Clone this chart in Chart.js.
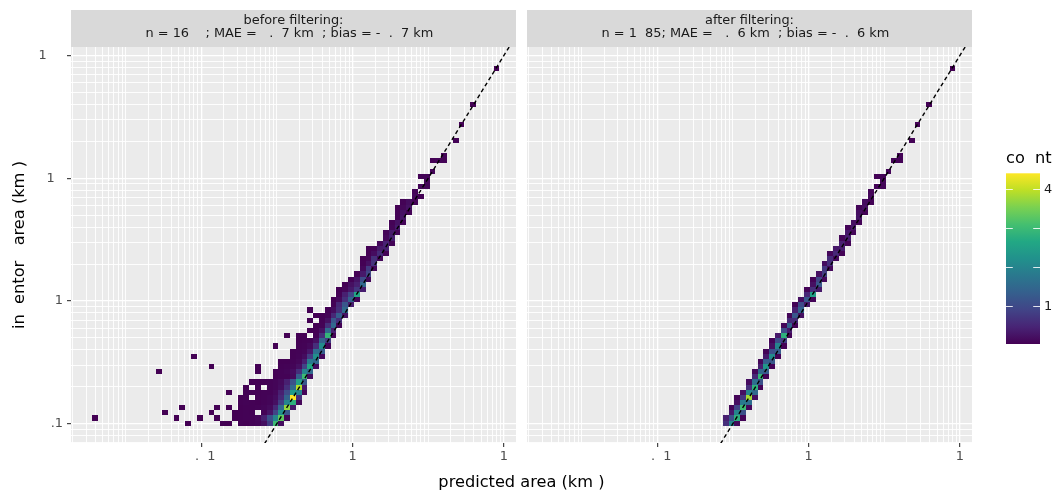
<!DOCTYPE html>
<html>
<head>
<meta charset="utf-8">
<script src="https://cdn.jsdelivr.net/npm/chart.js@4.4.1/dist/chart.umd.min.js"></script>
<style>
  html, body { margin: 0; padding: 0; background: #ffffff; }
  #wrap { position: relative; width: 1059px; height: 497px; }
  canvas { position: absolute; left: 0; top: 0; }
</style>
</head>
<body>
<div id="wrap">
  <canvas id="before" width="1059" height="497"></canvas>
  <canvas id="after" width="1059" height="497"></canvas>
</div>
<script>
// ---- data ----
// log10 bins shared by both facets (70 x 70 bins)
const xBinOrigin = -3.4405, xBinWidth = 0.07688;
const yBinOrigin = -1.0166, yBinWidth = 0.04193;

// axis ranges and ticks
const xRange = [1.9e-4, 145];
const yRange = [0.0696, 117.7];
const xTickValues = [0.01, 1, 100];
const xTickLabels = ['\u2007.\u20071', '1', '1'];
const yTickValues = [0.1, 1, 10, 100];
const yTickLabels = ['\u2007.1', '1', '1\u2007', '1\u2007\u2007'];

// colour bar
const countRange = [1, 441];
const legendBreaks = [100, 200, 300, 400];
const legendLabels = ['1\u2007\u2007', '\u2007\u2007\u2007', '\u2007\u2007\u2007', '4\u2007\u2007'];

// facet titles
const stripBefore = ['before filtering:', 'n = 16\u2007\u2007; MAE = \u2007.\u20077 km\u2007; bias = -\u2007.\u20077 km\u2007'];
const stripAfter = ['after filtering:', 'n = 1\u200785; MAE = \u2007.\u20076 km\u2007; bias = -\u2007.\u20076 km\u2007'];

// cells: [row, col, count]
const beforeCells = [
  [0,16,1],[0,22,1],[0,23,1],[0,25,2],[0,26,1],[0,27,3],[0,28,6],[0,29,20],[0,30,80],[0,31,300],[0,32,15],
  [1,0,1],[1,14,1],[1,18,1],[1,21,1],[1,24,1],[1,25,2],[1,26,3],[1,27,4],[1,28,8],[1,29,40],[1,30,110],[1,31,200],[1,32,330],[1,33,5],
  [2,12,1],[2,20,1],[2,24,1],[2,25,2],[2,26,3],[2,27,2],[2,29,5],[2,30,25],[2,31,90],[2,32,220],[2,33,120],
  [3,15,1],[3,21,1],[3,23,1],[3,25,1],[3,26,2],[3,27,2],[3,28,3],[3,29,6],[3,30,12],[3,31,50],[3,32,150],[3,33,370],[3,34,30],
  [4,25,2],[4,26,3],[4,27,2],[4,28,1],[4,29,3],[4,30,6],[4,31,20],[4,32,80],[4,33,200],[4,34,280],[4,35,8],
  [5,25,1],[5,26,2],[5,28,2],[5,29,4],[5,30,6],[5,31,15],[5,32,50],[5,33,140],[5,34,441],[5,35,60],
  [6,23,1],[6,26,2],[6,27,2],[6,28,2],[6,29,3],[6,30,4],[6,31,10],[6,32,40],[6,33,100],[6,34,240],[6,35,200],[6,36,5],
  [7,26,1],[7,28,2],[7,30,3],[7,31,6],[7,32,15],[7,33,60],[7,34,150],[7,35,390],[7,36,30],
  [8,27,1],[8,28,1],[8,29,2],[8,30,3],[8,31,6],[8,32,12],[8,33,40],[8,34,110],[8,35,250],[8,36,120],
  [9,31,1],[9,32,3],[9,33,4],[9,34,12],[9,35,130],[9,36,300],[9,37,15],
  [10,11,1],[10,28,1],[10,31,2],[10,32,3],[10,33,6],[10,34,15],[10,35,60],[10,36,200],[10,37,150],
  [11,20,1],[11,28,1],[11,32,2],[11,33,4],[11,34,6],[11,35,20],[11,36,90],[11,37,260],[11,38,15],
  [12,32,1],[12,33,1],[12,34,3],[12,35,8],[12,36,40],[12,37,180],[12,38,150],
  [13,17,1],[13,34,2],[13,35,5],[13,36,15],[13,37,80],[13,38,220],[13,39,10],
  [14,34,2],[14,35,3],[14,36,6],[14,37,30],[14,38,160],[14,39,130],
  [15,31,1],[15,35,2],[15,36,4],[15,37,10],[15,38,60],[15,39,210],[15,40,5],
  [16,35,1],[16,36,2],[16,37,4],[16,38,20],[16,39,140],[16,40,80],
  [17,33,1],[17,35,1],[17,36,1],[17,38,3],[17,39,60],[17,40,290],[17,41,5],
  [18,37,1],[18,38,2],[18,39,20],[18,40,150],[18,41,40],
  [19,38,1],[19,39,4],[19,40,60],[19,41,150],[19,42,3],
  [20,37,1],[20,39,2],[20,40,20],[20,41,120],[20,42,60],
  [21,38,1],[21,39,1],[21,40,5],[21,41,50],[21,42,130],[21,43,22],
  [22,37,1],[22,40,2],[22,41,15],[22,42,60],[22,43,150],
  [23,41,4],[23,42,50],[23,43,120],[23,44,35],
  [24,41,1],[24,42,12],[24,43,60],[24,44,140],[24,45,6],
  [25,42,3],[25,43,40],[25,44,90],[25,45,260],
  [26,42,1],[26,43,8],[26,44,30],[26,45,70],[26,46,35],
  [27,43,2],[27,44,20],[27,45,40],[27,46,150],
  [28,44,3],[28,45,25],[28,46,100],[28,47,10],
  [29,45,2],[29,46,30],[29,47,90],
  [30,46,10],[30,47,75],[30,48,10],
  [31,46,2],[31,47,20],[31,48,65],
  [32,46,1],[32,47,6],[32,48,60],[32,49,10],
  [33,47,1],[33,48,15],[33,49,55],[33,50,3],
  [34,47,1],[34,48,3],[34,49,32],[34,50,38],
  [35,49,10],[35,50,42],[35,51,5],
  [36,50,10],[36,51,38],
  [37,50,6],[37,51,32],[37,52,8],
  [38,51,6],[38,52,32],
  [39,51,3],[39,52,22],[39,53,5],
  [40,52,4],[40,53,26],
  [41,52,3],[41,53,22],[41,54,4],
  [42,52,1],[42,53,8],[42,54,22],
  [43,53,3],[43,54,16],[43,55,3],
  [44,55,11],[44,56,2],
  [45,55,6],
  [46,56,7],[46,57,6],
  [47,57,8],
  [48,56,3],[48,57,5],
  [49,58,6],
  [51,58,1],[51,59,5],[51,60,4],
  [52,60,5],
  [55,62,3],
  [58,63,2],
  [62,65,2],
  [69,69,1]
];

const afterCells = [
  [0,30,60],[0,31,200],[0,32,12],
  [1,30,40],[1,31,110],[1,32,280],[1,33,5],
  [2,31,30],[2,32,200],[2,33,110],
  [3,31,6],[3,32,90],[3,33,300],[3,34,10],
  [4,32,20],[4,33,180],[4,34,160],
  [5,32,5],[5,33,70],[5,34,380],[5,35,15],
  [6,33,20],[6,34,200],[6,35,150],
  [7,34,60],[7,35,280],[7,36,5],
  [8,34,15],[8,35,160],[8,36,110],
  [9,35,50],[9,36,290],[9,37,5],
  [10,35,10],[10,36,150],[10,37,130],
  [11,36,40],[11,37,230],[11,38,4],
  [12,36,8],[12,37,130],[12,38,120],
  [13,37,30],[13,38,210],[13,39,3],
  [14,37,5],[14,38,110],[14,39,130],
  [15,38,20],[15,39,200],[15,40,3],
  [16,38,4],[16,39,100],[16,40,80],
  [17,39,30],[17,40,280],[17,41,5],
  [18,40,100],[18,41,35],
  [19,40,10],[19,41,140],[19,42,3],
  [20,41,50],[20,42,55],
  [21,41,8],[21,42,120],[21,43,20],
  [22,42,40],[22,43,140],
  [23,42,5],[23,43,100],[23,44,30],
  [24,43,20],[24,44,120],[24,45,5],
  [25,44,50],[25,45,250],
  [26,44,5],[26,45,60],[26,46,30],
  [27,45,20],[27,46,120],
  [28,45,3],[28,46,90],[28,47,10],
  [29,46,20],[29,47,80],
  [30,47,70],[30,48,10],
  [31,47,15],[31,48,60],
  [32,48,55],[32,49,10],
  [33,48,10],[33,49,50],[33,50,3],
  [34,49,30],[34,50,35],
  [35,50,40],[35,51,5],
  [36,50,8],[36,51,35],
  [37,51,30],[37,52,8],
  [38,51,5],[38,52,30],
  [39,52,20],[39,53,5],
  [40,53,25],
  [41,53,20],[41,54,4],
  [42,53,6],[42,54,20],
  [43,54,15],[43,55,3],
  [44,55,10],
  [45,55,6],
  [46,56,6],[46,57,6],
  [47,57,8],
  [48,56,3],[48,57,5],
  [49,58,6],
  [51,59,5],[51,60,4],
  [52,60,5],
  [55,62,3],
  [58,63,2],
  [62,65,2],
  [69,69,1]
];

// ---- helpers ----
const FONT = '"DejaVu Sans", "Noto Sans", sans-serif';
const viridis = ['#440154', '#482475', '#414487', '#355f8d', '#2a788e', '#21918c',
                 '#22a884', '#44bf70', '#7ad151', '#bddf26', '#fde725'];

function hexRgb(h) {
  return [parseInt(h.slice(1, 3), 16), parseInt(h.slice(3, 5), 16), parseInt(h.slice(5, 7), 16)];
}

function countColor(n) {
  let t = (n - countRange[0]) / (countRange[1] - countRange[0]);
  t = Math.max(0, Math.min(1, t));
  const p = t * (viridis.length - 1);
  const i = Math.min(Math.floor(p), viridis.length - 2);
  const f = p - i;
  const a = hexRgb(viridis[i]), b = hexRgb(viridis[i + 1]);
  const c = a.map((v, k) => Math.round(v + (b[k] - v) * f));
  return 'rgb(' + c.join(',') + ')';
}

// grid lines at 1..9 x 10^k
function logGrid(min, max) {
  const out = [];
  for (let e = -5; e <= 3; e++) {
    for (let k = 1; k <= 9; k++) {
      const v = k * Math.pow(10, e);
      if (v >= min * 0.9999 && v <= max * 1.0001) out.push(v);
    }
  }
  return out;
}

function labelIndex(v, values) {
  return values.findIndex(t => Math.abs(Math.log10(v) - Math.log10(t)) < 1e-6);
}

function cellPoints(cells) {
  return cells.map(([row, col, n]) => ({
    x: Math.pow(10, xBinOrigin + (col + 0.5) * xBinWidth),
    y: Math.pow(10, yBinOrigin + (row + 0.5) * yBinWidth),
    row: row, col: col, n: n
  }));
}

// ---- plugins ----
const heatmapPlugin = {
  id: 'heatmap',
  beforeDatasetsDraw(chart) {
    const {ctx, chartArea, scales: {x, y}} = chart;
    ctx.save();
    ctx.beginPath();
    ctx.rect(chartArea.left, chartArea.top, chartArea.width, chartArea.height);
    ctx.clip();
    chart.data.datasets.forEach(ds => {
      if (!ds.heat) return;
      ds.data.forEach(p => {
        const x0 = Math.round(x.getPixelForValue(Math.pow(10, xBinOrigin + p.col * xBinWidth)));
        const x1 = Math.round(x.getPixelForValue(Math.pow(10, xBinOrigin + (p.col + 1) * xBinWidth)));
        const y0 = Math.round(y.getPixelForValue(Math.pow(10, yBinOrigin + p.row * yBinWidth)));
        const y1 = Math.round(y.getPixelForValue(Math.pow(10, yBinOrigin + (p.row + 1) * yBinWidth)));
        ctx.fillStyle = countColor(p.n);
        ctx.fillRect(x0, y1, x1 - x0, y0 - y1);
      });
    });
    ctx.restore();
  }
};

const decorPlugin = {
  id: 'decor',
  beforeDraw(chart, args, opts) {
    const {ctx, chartArea: a} = chart;
    ctx.save();
    // panel background
    ctx.fillStyle = '#EBEBEB';
    ctx.fillRect(a.left, a.top, a.width, a.height);
    // strip
    ctx.fillStyle = '#D9D9D9';
    ctx.fillRect(a.left, 10, a.width, a.top - 10);
    ctx.fillStyle = '#1A1A1A';
    ctx.font = '12.9px ' + FONT;
    ctx.textAlign = 'center';
    ctx.textBaseline = 'middle';
    const cx = (a.left + a.right) / 2;
    ctx.fillText(opts.strip[0], cx, 20.3);
    ctx.fillText(opts.strip[1], cx, 34);
    ctx.restore();
  },
  afterDraw(chart, args, opts) {
    if (!opts.extras) return;
    const {ctx} = chart;
    ctx.save();
    ctx.fillStyle = '#000000';
    ctx.font = '16.2px ' + FONT;
    ctx.textBaseline = 'middle';
    ctx.textAlign = 'center';
    ctx.fillText('predicted area (km\u2004)', 521.5, 483);
    ctx.save();
    ctx.translate(20, 245);
    ctx.rotate(-Math.PI / 2);
    ctx.fillText('in\u2007entor\u2007 area (km\u2004)', 0, 0);
    ctx.restore();

    // colour bar legend
    const bx = 1006, bw = 34, top = 173.3, bottom = 344;
    ctx.textAlign = 'left';
    ctx.fillText('co\u2007nt', bx, 159);
    const g = ctx.createLinearGradient(0, bottom, 0, top);
    viridis.forEach((c, i) => g.addColorStop(i / (viridis.length - 1), c));
    ctx.fillStyle = g;
    ctx.fillRect(bx, top, bw, bottom - top);
    ctx.strokeStyle = 'rgba(255,255,255,0.85)';
    ctx.lineWidth = 1;
    ctx.font = '12.9px ' + FONT;
    ctx.fillStyle = '#1A1A1A';
    legendBreaks.forEach((v, i) => {
      const yy = Math.round(bottom - (v - countRange[0]) / (countRange[1] - countRange[0]) * (bottom - top)) + 0.5;
      ctx.beginPath();
      ctx.moveTo(bx, yy); ctx.lineTo(bx + 6.8, yy);
      ctx.moveTo(bx + bw - 6.8, yy); ctx.lineTo(bx + bw, yy);
      ctx.stroke();
      ctx.fillText(legendLabels[i], bx + bw + 4, yy);
    });
    ctx.restore();
  }
};

// ---- charts ----
function makePanel(id, cells, strip, padding, withYLabels, extras) {
  const axisFont = {family: FONT, size: 12.9};
  return new Chart(document.getElementById(id), {
    type: 'scatter',
    data: {
      datasets: [
        {
          label: 'count',
          heat: true,
          data: cellPoints(cells),
          pointRadius: 0,
          pointHoverRadius: 0
        },
        {
          type: 'line',
          label: 'y = x',
          data: [{x: 1e-5, y: 1e-5}, {x: 1e4, y: 1e4}],
          borderColor: '#000000',
          borderWidth: 1.4,
          borderDash: [4, 3],
          pointRadius: 0,
          fill: false,
          clip: 0
        }
      ]
    },
    options: {
      responsive: false,
      animation: false,
      devicePixelRatio: 1,
      events: [],
      layout: {padding: padding},
      scales: {
        x: {
          type: 'logarithmic',
          min: xRange[0],
          max: xRange[1],
          afterBuildTicks: s => { s.ticks = logGrid(s.min, s.max).map(v => ({value: v})); },
          afterFit: s => { s.height = 54; },
          border: {display: false},
          grid: {
            color: '#FFFFFF',
            lineWidth: c => labelIndex(c.tick.value, xTickValues) >= 0 ? 1.3 : 0.9,
            drawTicks: true,
            tickLength: 4,
            tickWidth: 1.1,
            tickColor: c => labelIndex(c.tick.value, xTickValues) >= 0 ? '#333333' : 'rgba(0,0,0,0)'
          },
          ticks: {
            autoSkip: false,
            maxRotation: 0,
            minRotation: 0,
            padding: 2,
            color: '#4D4D4D',
            font: axisFont,
            callback: v => {
              const i = labelIndex(v, xTickValues);
              return i >= 0 ? xTickLabels[i] : '';
            }
          }
        },
        y: {
          type: 'logarithmic',
          min: yRange[0],
          max: yRange[1],
          afterBuildTicks: s => { s.ticks = logGrid(s.min, s.max).map(v => ({value: v})); },
          afterFit: s => { s.width = withYLabels ? 71 : 0; },
          border: {display: false},
          grid: {
            color: '#FFFFFF',
            lineWidth: c => labelIndex(c.tick.value, yTickValues) >= 0 ? 1.3 : 0.9,
            drawTicks: withYLabels,
            tickLength: 4,
            tickWidth: 1.1,
            tickColor: c => labelIndex(c.tick.value, yTickValues) >= 0 ? '#333333' : 'rgba(0,0,0,0)'
          },
          ticks: {
            display: withYLabels,
            autoSkip: false,
            padding: 4,
            color: '#4D4D4D',
            font: axisFont,
            callback: v => {
              const i = labelIndex(v, yTickValues);
              return i >= 0 ? yTickLabels[i] : '';
            }
          }
        }
      },
      plugins: {
        legend: {display: false},
        tooltip: {enabled: false},
        decor: {strip: strip, extras: extras}
      }
    },
    plugins: [decorPlugin, heatmapPlugin]
  });
}

const beforeChart = makePanel('before', beforeCells, stripBefore,
  {left: 0, top: 47, right: 543, bottom: 0}, true, false);
const afterChart = makePanel('after', afterCells, stripAfter,
  {left: 527, top: 47, right: 87, bottom: 0}, false, true);
</script>
</body>
</html>
